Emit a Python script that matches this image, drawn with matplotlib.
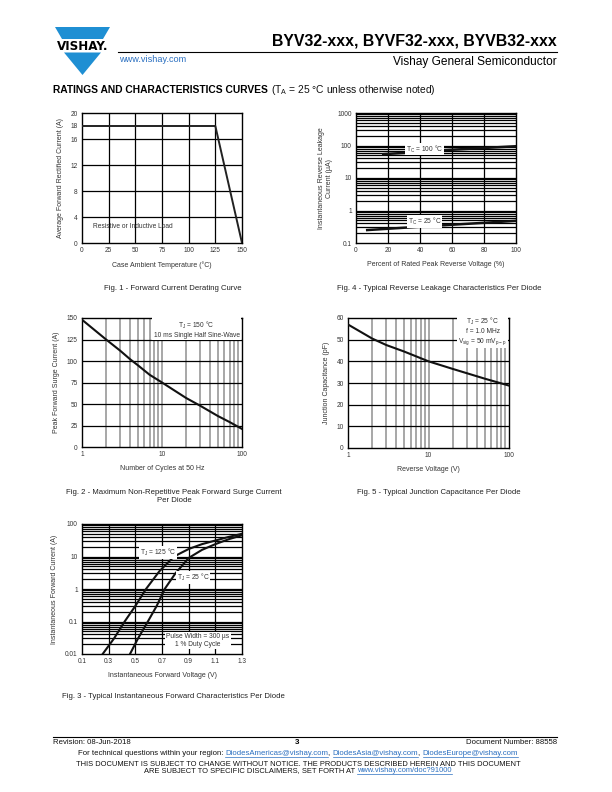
import numpy as np
import matplotlib
matplotlib.use("Agg")
import matplotlib.pyplot as plt
from matplotlib.patches import Polygon
from matplotlib.ticker import FixedLocator, NullFormatter

plt.rcParams["font.family"] = ["Liberation Sans", "DejaVu Sans"]
plt.rcParams["mathtext.default"] = "regular"

W, H = 612, 792
BLUE = "#1f8fd3"
LINK = "#2a6fc0"
GRAY_TXT = "#333333"

# ---- data ----
# Fig. 1 derating
derate_temp = [0, 125, 150]
derate_current = [18, 18, 0]

# Fig. 4 reverse leakage (percent of VRRM, uA)
leak_pct_100 = [17, 60, 100]
leak_ua_100 = [54, 74, 95]
leak_pct_25 = [7, 50, 100]
leak_ua_25 = [0.25, 0.34, 0.48]

# Fig. 2 surge current
surge_cycles = [1, 2, 3, 4, 5, 7, 10, 20, 30, 50, 70, 100]
surge_amps = [148, 125, 112, 102, 95, 84, 75, 57, 48, 36, 29, 21]

# Fig. 5 junction capacitance
cap_volts = [1, 2, 3, 5, 10, 20, 50, 100]
cap_pf = [57, 50.5, 47.5, 44.5, 40, 36.5, 32, 28.8]

# Fig. 3 forward characteristics
vf_125 = [0.255, 0.34, 0.42, 0.50, 0.58, 0.68, 0.79, 0.90, 1.0, 1.1, 1.2, 1.3]
if_125 = [0.01, 0.03, 0.1, 0.3, 1, 3.5, 10, 17, 24, 31, 40, 50]
vf_25 = [0.46, 0.52, 0.594, 0.66, 0.72, 0.80, 0.90, 1.0, 1.1, 1.2, 1.3]
if_25 = [0.01, 0.03, 0.1, 0.3, 1, 3, 9, 16, 24, 34, 45]

fig = plt.figure(figsize=(W / 100, H / 100), dpi=100)
fig.patch.set_facecolor("white")


def box(x0, y0, x1, y1):
    return [x0 / W, 1 - y1 / H, (x1 - x0) / W, (y1 - y0) / H]


# page layer for header / footer / captions
page = fig.add_axes([0, 0, 1, 1])
page.set_xlim(0, W)
page.set_ylim(H, 0)
page.axis("off")


def style(ax):
    for s in ax.spines.values():
        s.set_linewidth(1.0)
        s.set_color("black")
    ax.tick_params(which="both", length=0, labelsize=4.7, labelcolor=GRAY_TXT, pad=3)


def log_minor(lo_exp, hi_exp):
    return [m * 10.0 ** e for e in range(lo_exp, hi_exp) for m in range(2, 10)]


bbox_w = dict(facecolor="white", edgecolor="none", pad=0.6)
lab_kw = dict(fontsize=5.0, color=GRAY_TXT)

# ---------------- Fig. 1 ----------------
ax1 = fig.add_axes(box(82, 113, 242, 243))
style(ax1)
ax1.set_xlim(0, 150)
ax1.set_ylim(0, 20)
ax1.set_xticks([0, 25, 50, 75, 100, 125, 150])
ax1.set_yticks([0, 4, 8, 12, 16, 18, 20])
for x in [25, 50, 75, 100, 125]:
    ax1.axvline(x, color="black", lw=0.9, zorder=1)
for y in [4, 8, 12, 16]:
    ax1.axhline(y, color="black", lw=0.9, zorder=1)
ax1.plot(derate_temp, derate_current, color="#222222", lw=1.4, zorder=3)
ax1.text(48, 2.6, "Resistive or Inductive Load", ha="center", va="center", fontsize=4.8,
         color=GRAY_TXT)
ax1.set_xlabel("Case Ambient Temperature (°C)", labelpad=5, **lab_kw)
ax1.set_ylabel("Average Forward Rectified Current (A)", labelpad=5, **lab_kw)

# ---------------- Fig. 4 ----------------
ax4 = fig.add_axes(box(356, 113, 516, 243))
style(ax4)
ax4.set_yscale("log")
ax4.set_xlim(0, 100)
ax4.set_ylim(0.1, 1000)
ax4.set_xticks([0, 20, 40, 60, 80, 100])
ax4.yaxis.set_major_locator(FixedLocator([0.1, 1, 10, 100, 1000]))
ax4.set_yticklabels(["0.1", "1", "10", "100", "1000"])
ax4.yaxis.set_minor_locator(FixedLocator(log_minor(-1, 3)))
ax4.yaxis.set_minor_formatter(NullFormatter())
for y in [1, 10, 100] + log_minor(-1, 3):
    ax4.axhline(y, color="black", lw=0.9, zorder=1)
for x in [20, 40, 60, 80]:
    ax4.axvline(x, color="black", lw=0.9, zorder=1)
ax4.plot(leak_pct_100, leak_ua_100, color="#111111", lw=1.8, zorder=3)
ax4.plot(leak_pct_25, leak_ua_25, color="#111111", lw=1.8, zorder=3)
ax4.text(43, 78, "T$_C$ = 100 °C", ha="center", va="center", fontsize=4.8, color=GRAY_TXT,
         bbox=bbox_w, zorder=4)
ax4.text(43, 0.45, "T$_C$ = 25 °C", ha="center", va="center", fontsize=4.8, color=GRAY_TXT,
         bbox=bbox_w, zorder=4)
ax4.set_xlabel("Percent of Rated Peak Reverse Voltage (%)", labelpad=5, **lab_kw)
ax4.set_ylabel("Instantaneous Reverse Leakage\nCurrent (µA)", labelpad=3, linespacing=1.25,
               **lab_kw)

# ---------------- Fig. 2 ----------------
ax2 = fig.add_axes(box(82, 318, 242, 447))
style(ax2)
ax2.set_xscale("log")
ax2.set_xlim(1, 100)
ax2.set_ylim(0, 150)
ax2.xaxis.set_major_locator(FixedLocator([1, 10, 100]))
ax2.set_xticklabels(["1", "10", "100"])
ax2.xaxis.set_minor_locator(FixedLocator(log_minor(0, 2)))
ax2.xaxis.set_minor_formatter(NullFormatter())
ax2.set_yticks([0, 25, 50, 75, 100, 125, 150])
for x in log_minor(0, 2) + [10]:
    ax2.axvline(x, color="#a0a0a0", lw=1.3, zorder=1)
for y in [25, 50, 75, 100, 125]:
    ax2.axhline(y, color="black", lw=0.9, zorder=1)
ax2.plot(surge_cycles, surge_amps, color="#111111", lw=1.5, zorder=3)
ax2.text(27, 137, "T$_J$ = 150 °C\n10 ms Single Half Sine-Wave", ha="center", va="center",
         fontsize=4.8, color=GRAY_TXT, linespacing=1.15, zorder=4,
         bbox=dict(facecolor="white", edgecolor="none", pad=1.2))
ax2.set_xlabel("Number of Cycles at 50 Hz", labelpad=5, **lab_kw)
ax2.set_ylabel("Peak Forward Surge Current (A)", labelpad=5, **lab_kw)

# ---------------- Fig. 5 ----------------
ax5 = fig.add_axes(box(348, 318, 509, 448))
style(ax5)
ax5.set_xscale("log")
ax5.set_xlim(1, 100)
ax5.set_ylim(0, 60)
ax5.xaxis.set_major_locator(FixedLocator([1, 10, 100]))
ax5.set_xticklabels(["1", "10", "100"])
ax5.xaxis.set_minor_locator(FixedLocator(log_minor(0, 2)))
ax5.xaxis.set_minor_formatter(NullFormatter())
ax5.set_yticks([0, 10, 20, 30, 40, 50, 60])
for x in log_minor(0, 2) + [10]:
    ax5.axvline(x, color="#a0a0a0", lw=1.3, zorder=1)
for y in [10, 20, 30, 40, 50]:
    ax5.axhline(y, color="black", lw=0.9, zorder=1)
ax5.plot(cap_volts, cap_pf, color="#111111", lw=1.5, zorder=3)
ax5.text(47, 54, "T$_J$ = 25 °C\nf = 1.0 MHz\nV$_{sig}$ = 50 mV$_{p-p}$", ha="center",
         va="center", fontsize=4.8, color=GRAY_TXT, linespacing=1.2, zorder=4,
         bbox=dict(facecolor="white", edgecolor="none", pad=1.0))
ax5.set_xlabel("Reverse Voltage (V)", labelpad=5, **lab_kw)
ax5.set_ylabel("Junction Capacitance (pF)", labelpad=5, **lab_kw)

# ---------------- Fig. 3 ----------------
ax3 = fig.add_axes(box(82, 524, 242, 654))
style(ax3)
ax3.set_yscale("log")
ax3.set_xlim(0.1, 1.3)
ax3.set_ylim(0.01, 100)
ax3.set_xticks([0.1, 0.3, 0.5, 0.7, 0.9, 1.1, 1.3])
ax3.set_xticklabels(["0.1", "0.3", "0.5", "0.7", "0.9", "1.1", "1.3"])
ax3.yaxis.set_major_locator(FixedLocator([0.01, 0.1, 1, 10, 100]))
ax3.set_yticklabels(["0.01", "0.1", "1", "10", "100"])
ax3.yaxis.set_minor_locator(FixedLocator(log_minor(-2, 2)))
ax3.yaxis.set_minor_formatter(NullFormatter())
for y in [0.1, 1, 10] + log_minor(-2, 2):
    ax3.axhline(y, color="black", lw=0.9, zorder=1)
for x in [0.3, 0.5, 0.7, 0.9, 1.1]:
    ax3.axvline(x, color="black", lw=0.9, zorder=1)
ax3.plot(vf_125, if_125, color="#111111", lw=1.5, zorder=3)
ax3.plot(vf_25, if_25, color="#111111", lw=1.5, zorder=3)
ax3.text(0.67, 13, "T$_J$ = 125 °C", ha="center", va="center", fontsize=4.8, color=GRAY_TXT,
         bbox=bbox_w, zorder=4)
ax3.text(0.935, 2.2, "T$_J$ = 25 °C", ha="center", va="center", fontsize=4.8, color=GRAY_TXT,
         bbox=bbox_w, zorder=4)
ax3.text(0.97, 0.026, "Pulse Width = 300 µs\n1 % Duty Cycle", ha="center", va="center",
         fontsize=4.8, color=GRAY_TXT, linespacing=1.15, zorder=4,
         bbox=dict(facecolor="white", edgecolor="none", pad=1.0))
ax3.set_xlabel("Instantaneous Forward Voltage (V)", labelpad=5, **lab_kw)
ax3.set_ylabel("Instantaneous Forward Current (A)", labelpad=5, **lab_kw)

# ---------------- captions ----------------
cap_kw = dict(fontsize=5.6, color="#222222", ha="center", va="center")
page.text(173, 288, "Fig. 1 - Forward Current Derating Curve", **cap_kw)
page.text(439, 288, "Fig. 4 - Typical Reverse Leakage Characteristics Per Diode", **cap_kw)
page.text(174, 493, "Fig. 2 - Maximum Non-Repetitive Peak Forward Surge Current", **cap_kw)
page.text(174, 501, "Per Diode", **cap_kw)
page.text(439, 493, "Fig. 5 - Typical Junction Capacitance Per Diode", **cap_kw)
page.text(173, 697, "Fig. 3 - Typical Instantaneous Forward Characteristics Per Diode", **cap_kw)

# ---------------- header ----------------
page.add_patch(Polygon([(55, 27), (110, 27), (103, 39), (62, 39)], closed=True,
                       facecolor=BLUE, edgecolor="none"))
page.add_patch(Polygon([(64, 52.5), (101, 52.5), (82.5, 75)], closed=True,
                       facecolor=BLUE, edgecolor="none"))
page.text(82.5, 46, "VISHAY.", ha="center", va="center", fontsize=8.6, fontweight="heavy",
          family=["DejaVu Sans"], color="black")
page.text(557, 41, "BYV32-xxx, BYVF32-xxx, BYVB32-xxx", ha="right", va="center",
          fontsize=11.4, fontweight="bold", color="black")
page.plot([118, 557], [52, 52], color="black", lw=0.8)
page.text(119, 59, "www.vishay.com", ha="left", va="center", fontsize=6.6, color=LINK)
page.text(557, 62.5, "Vishay General Semiconductor", ha="right", va="center", fontsize=8.6,
          color="black")

renderer = fig.canvas.get_renderer()


def seg_line(xc, y, parts, size, align="center"):
    texts, widths = [], []
    for s, kind in parts:
        kw = dict(fontsize=size, ha="left", va="center")
        if kind == "link":
            kw["color"] = LINK
        elif kind == "bold":
            kw["color"] = "black"
            kw["fontweight"] = "bold"
        else:
            kw["color"] = "#111111"
        t = page.text(0, y, s, **kw)
        texts.append(t)
        widths.append(t.get_window_extent(renderer=renderer).width)
    x = xc - sum(widths) / 2 if align == "center" else xc
    for t, w, (s, kind) in zip(texts, widths, parts):
        t.set_x(x)
        if kind == "link":
            page.plot([x, x + w], [y + 3.2, y + 3.2], color=LINK, lw=0.5)
        x += w


seg_line(53, 90, [("RATINGS AND CHARACTERISTICS CURVES ", "bold"),
                  ("(T$_A$ = 25 °C unless otherwise noted)", "plain")], 7.4, align="left")

# ---------------- footer ----------------
page.plot([53, 557], [737, 737], color="black", lw=0.8)
page.text(53, 742.5, "Revision: 08-Jun-2018", ha="left", va="center", fontsize=5.6,
          color="#111111")
page.text(297, 742.5, "3", ha="center", va="center", fontsize=5.8, fontweight="bold",
          color="black")
page.text(557, 742.5, "Document Number: 88558", ha="right", va="center", fontsize=5.6,
          color="#111111")
seg_line(298, 753.5, [("For technical questions within your region: ", "plain"),
                      ("DiodesAmericas@vishay.com", "link"), (", ", "plain"),
                      ("DiodesAsia@vishay.com", "link"), (", ", "plain"),
                      ("DiodesEurope@vishay.com", "link")], 5.6)
page.text(298, 764, "THIS DOCUMENT IS SUBJECT TO CHANGE WITHOUT NOTICE. THE PRODUCTS DESCRIBED "
          "HEREIN AND THIS DOCUMENT", ha="center", va="center", fontsize=5.45, color="#111111")
seg_line(298, 771, [("ARE SUBJECT TO SPECIFIC DISCLAIMERS, SET FORTH AT ", "plain"),
                    ("www.vishay.com/doc?91000", "link")], 5.45)

fig.savefig("out.png", dpi=100, facecolor="white")
